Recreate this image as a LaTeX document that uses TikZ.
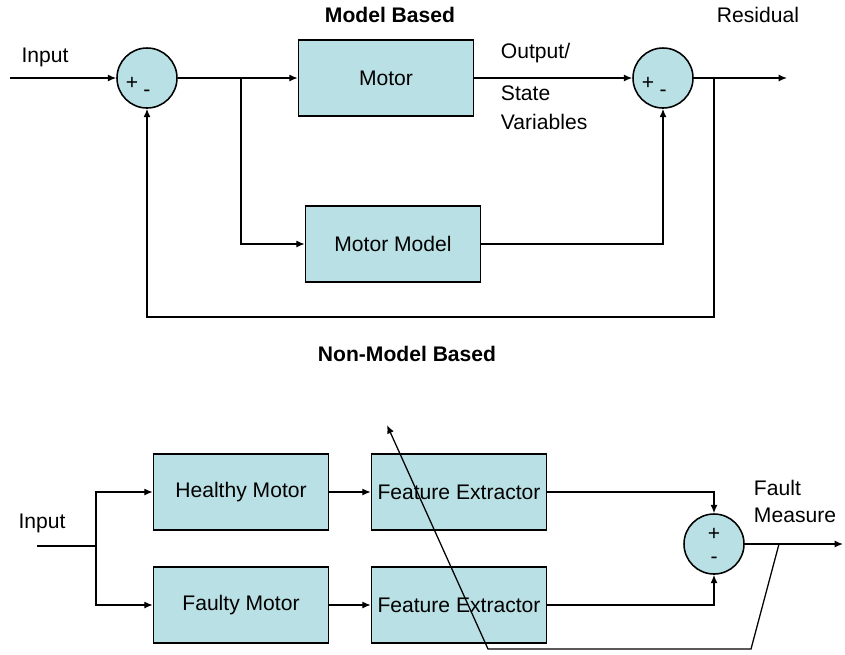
\documentclass[tikz,border=0pt]{standalone}
\usepackage{fontspec}
\setmainfont{Liberation Sans}
\usepackage{tikz}
\usetikzlibrary{arrows.meta}
\definecolor{blockteal}{RGB}{185,224,228}

\begin{document}
\begin{tikzpicture}[x=0.025cm, y=-0.025cm,
    every node/.style={font=\fontsize{15}{18}\selectfont},
    block/.style={draw, line width=1.1pt, fill=blockteal, minimum width=4.375cm, minimum height=1.9cm, inner sep=0pt},
    sumnode/.style={draw, line width=1.1pt, circle, fill=blockteal, minimum size=1.5cm, inner sep=0pt},
    wire/.style={line width=0.9pt},
    flow/.style={wire, -{Latex[length=6pt,width=5pt]}}]
    \useasboundingbox (0,0) rectangle (845,654);

    % model based
    \node[font=\fontsize{15}{18}\selectfont\bfseries] (titleA) at (390,15) {Model Based};
    \node (inA) at (45,57) {Input};
    \coordinate (startA) at (10,78);
    \node[sumnode] (sumA) at (147,78) {};
    \node at (132,83) {+};
    \node at (147,93) {-};
    \node[block] (motor) at (386,78) {Motor};
    \node[block] (model) at (393,244) {Motor Model};
    \node[sumnode] (sumB) at (663,78) {};
    \node at (648,83) {+};
    \node at (663,93) {-};
    \node[anchor=west] (outA) at (496,53) {Output/};
    \node[anchor=west] (outB) at (496,93) {State};
    \node[anchor=west] (outC) at (496,122) {Variables};
    \node (resid) at (758,15) {Residual};
    \coordinate (splitA) at (241,78);
    \coordinate (splitB) at (714,78);
    \coordinate (endA) at (787,78);

    \draw[flow] (startA) -- (sumA);
    \draw[wire] (sumA) -- (splitA);
    \draw[flow] (splitA) -- (motor);
    \draw[flow] (splitA) |- (model);
    \draw[flow] (motor) -- (sumB);
    \draw[flow] (model) -| (sumB);
    \draw[flow] (sumB) -- (endA);
    \draw[flow] (splitB) -- (714,317) -| (sumA);

    % non-model based
    \node[font=\fontsize{15}{18}\selectfont\bfseries] (titleB) at (407,354) {Non-Model Based};
    \node (inB) at (42,523) {Input};
    \coordinate (startB) at (37,546);
    \coordinate (splitC) at (96,546);
    \node[block] (healthy) at (241,492) {Healthy Motor};
    \node[block] (faulty) at (241,605) {Faulty Motor};
    \node[block] (featA) at (459,492) {Feature Extractor};
    \node[block] (featB) at (459,605) {Feature Extractor};
    \node[sumnode] (sumC) at (714,544) {};
    \node at (714,534) {+};
    \node at (714,560) {-};
    \node[anchor=west] (faultA) at (749,488) {Fault};
    \node[anchor=west] (faultB) at (749,515) {Measure};
    \coordinate (endB) at (843,544);

    \draw[wire] (startB) -- (splitC);
    \draw[flow] (splitC) |- (healthy);
    \draw[flow] (splitC) |- (faulty);
    \draw[flow] (healthy) -- (featA);
    \draw[flow] (faulty) -- (featB);
    \draw[flow] (featA) -| (sumC);
    \draw[flow] (featB) -| (sumC);
    \draw[flow] (sumC) -- (endB);

    % stray line
    \coordinate (strayA) at (779,544);
    \coordinate (strayB) at (751,649);
    \coordinate (strayC) at (488,649);
    \coordinate (strayD) at (387,425);
    \draw[flow] (strayA) -- (strayB) -- (strayC) -- (strayD);
\end{tikzpicture}
\end{document}
